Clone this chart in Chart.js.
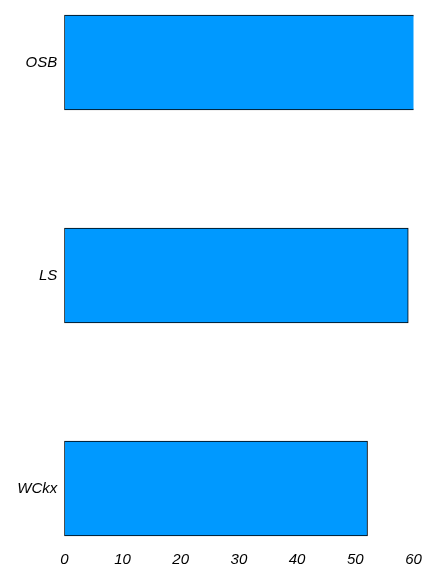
<!DOCTYPE html>
<html>
<head>
<meta charset="utf-8">
<script src="https://cdn.jsdelivr.net/npm/chart.js@4"></script>
<style>
  html, body { margin: 0; padding: 0; background: #fff; }
  #wrap { width: 438px; height: 584px; }
</style>
</head>
<body>
<div id="wrap"><canvas id="c" width="438" height="584"></canvas></div>
<script>
const categories = ["OSB", "LS", "WCkx"];
const values = [61, 59.1, 52.1];
const xTicks = [0, 10, 20, 30, 40, 50, 60];

const font = { family: "'Liberation Sans', Arial, Helvetica, sans-serif", size: 15, style: 'italic' };

new Chart(document.getElementById('c'), {
  type: 'bar',
  data: {
    labels: categories,
    datasets: [{
      data: values,
      backgroundColor: '#0099FF',
      borderColor: '#000000',
      borderWidth: 1,
      borderSkipped: false,
      barThickness: 95,
      clip: { left: 0, top: false, right: 0, bottom: false }
    }]
  },
  options: {
    indexAxis: 'y',
    responsive: false,
    animation: false,
    layout: { padding: { top: 62.5, right: 24.5, left: 0, bottom: 0 } },
    plugins: { legend: { display: false }, tooltip: { enabled: false } },
    scales: {
      y: {
        type: 'category',
        offset: false,
        grid: { display: false, drawTicks: false },
        border: { display: false },
        ticks: { color: '#000', font: font, padding: 7 },
        afterFit: s => { s.width = 64.3; }
      },
      x: {
        type: 'linear',
        min: 0,
        max: 60,
        afterBuildTicks: s => { s.ticks = xTicks.map(v => ({ value: v })); },
        grid: { display: false, drawTicks: true, tickLength: 58 },
        border: { display: false },
        ticks: { color: '#000', font: font, padding: 4, maxRotation: 0, autoSkip: false },
        afterFit: s => { s.height = 95.5; }
      }
    }
  }
});
</script>
</body>
</html>
